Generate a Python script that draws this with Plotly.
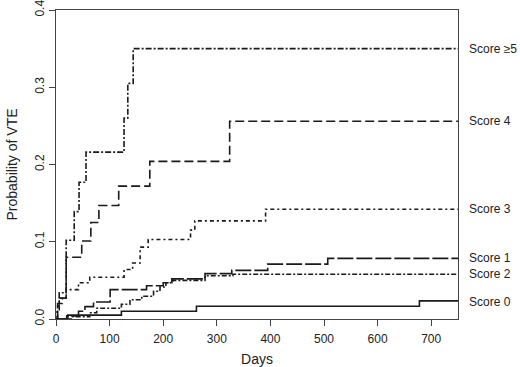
import plotly.graph_objects as go

# Step-function data (days, cumulative probability)
score5_days = [0, 3, 6, 19, 34, 43, 56, 127, 134, 144, 750]
score5_prob = [0, 0.017, 0.034, 0.102, 0.139, 0.177, 0.216, 0.260, 0.305, 0.350, 0.350]

score4_days = [0, 3, 12, 19, 48, 65, 80, 117, 175, 324, 750]
score4_prob = [0, 0.020, 0.027, 0.080, 0.101, 0.125, 0.147, 0.172, 0.204, 0.256, 0.256]

score3_days = [0, 2, 6, 19, 42, 63, 127, 143, 157, 172, 251, 259, 391, 750]
score3_prob = [0, 0.012, 0.027, 0.038, 0.047, 0.054, 0.064, 0.0725, 0.093, 0.103, 0.115, 0.127, 0.142, 0.142]

score1_days = [0, 20, 42, 54, 70, 101, 169, 200, 216, 278, 328, 395, 507, 750]
score1_prob = [0, 0.004, 0.010, 0.016, 0.022, 0.038, 0.043, 0.047, 0.052, 0.0587, 0.063, 0.071, 0.0785, 0.0785]

score2_days = [0, 30, 63, 76, 122, 138, 160, 182, 194, 205, 218, 278, 330, 750]
score2_prob = [0, 0.003, 0.008, 0.014, 0.019, 0.025, 0.0295, 0.036, 0.0415, 0.047, 0.050, 0.056, 0.058, 0.058]

score0_days = [0, 22, 122, 262, 678, 750]
score0_prob = [0, 0.005, 0.010, 0.0165, 0.0235, 0.0235]

labels = ["Score \u22655", "Score 4", "Score 3", "Score 1", "Score 2", "Score 0"]
label_y = [0.350, 0.256, 0.142, 0.0785, 0.058, 0.0225]

x_ticks = [0, 100, 200, 300, 400, 500, 600, 700]
y_ticks = [0.0, 0.1, 0.2, 0.3, 0.4]
y_tick_text = ["0.0", "0.1", "0.2", "0.3", "0.4"]

series = [
    (score5_days, score5_prob, "6px,2px,2px,2px"),
    (score4_days, score4_prob, "9px,4px"),
    (score3_days, score3_prob, "4px,3px,2px,3px"),
    (score1_days, score1_prob, "16px,3px"),
    (score2_days, score2_prob, "5px,2px,2px,2px"),
    (score0_days, score0_prob, "solid"),
]

fig = go.Figure()
for d, p, dash in series:
    fig.add_trace(go.Scatter(
        x=d, y=p, mode="lines", line_shape="hv",
        line=dict(color="#1a1a1a", width=1.6, dash=dash),
        showlegend=False, hoverinfo="skip",
    ))

for lab, yv in zip(labels, label_y):
    fig.add_annotation(
        x=1, xref="paper", y=yv, yref="y", text=lab, showarrow=False,
        xanchor="left", yanchor="middle", xshift=9,
        font=dict(size=12, color="#222", family="Liberation Sans, Arial, sans-serif"),
    )

fig.update_layout(
    width=520, height=367,
    margin=dict(l=56, r=62, t=10, b=48, autoexpand=False),
    plot_bgcolor="white", paper_bgcolor="white",
    font=dict(family="Liberation Sans, Arial, sans-serif", size=12, color="#222"),
    xaxis=dict(
        range=[0, 750], tickvals=x_ticks, ticks="outside", ticklen=6,
        tickcolor="#444", showline=True, linecolor="#444", linewidth=1,
        mirror=True, showgrid=False, zeroline=False, automargin=False,
        ticklabelstandoff=3, ticklabeloverflow="allow",
        title=dict(text="Days", standoff=12),
    ),
    yaxis=dict(
        range=[0, 0.4], tickvals=y_ticks, ticktext=y_tick_text,
        ticks="outside", ticklen=6, tickangle=-90,
        tickcolor="#444", showline=True, linecolor="#444", linewidth=1,
        mirror=True, showgrid=False, zeroline=False, automargin=False,
        ticklabeloverflow="allow",
        title=dict(text="Probability of VTE", standoff=12),
    ),
)

fig.write_html("out.html", config={"displayModeBar": False},
               post_script="document.body.style.margin='0';")
